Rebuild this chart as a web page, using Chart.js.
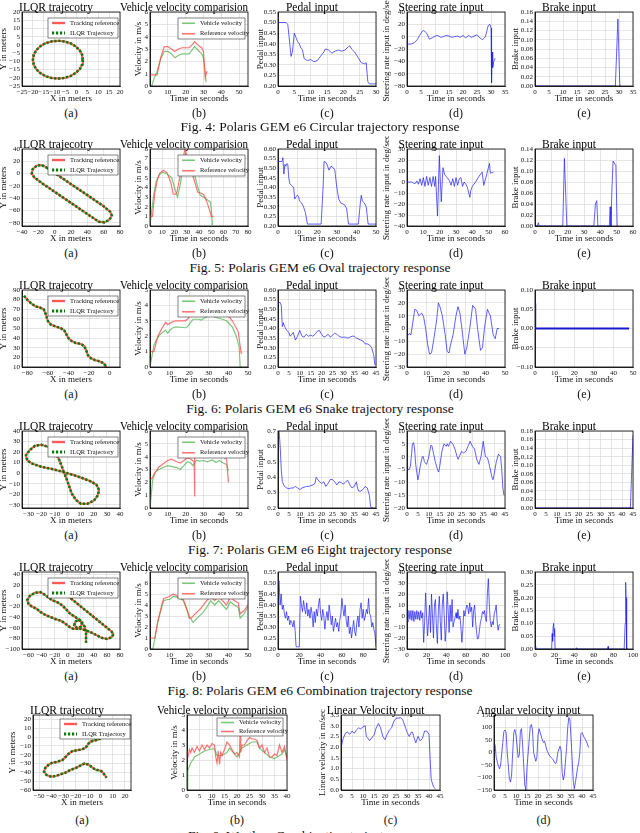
<!DOCTYPE html>
<html><head><meta charset="utf-8">
<script src="https://cdn.jsdelivr.net/npm/chart.js@4.4.1/dist/chart.umd.min.js"></script>
<style>
body{margin:0;width:640px;height:833px;overflow:hidden;background:#fff;position:relative;font-family:'Liberation Serif','Times New Roman',serif;color:#111}
canvas{position:absolute}
.cap{position:absolute;left:0;width:640px;text-align:center;font-size:13.5px;line-height:14px;white-space:nowrap}
.sub{position:absolute;width:40px;text-align:center;font-size:12px;line-height:14px}
</style></head><body>
<script>
// ---------- tick label arrays ----------
const tk_m25_20 = [-25,-20,-15,-10,-5,0,5,10,15,20];
const tk_0_50_10 = [0,10,20,30,40,50];
const tk_0_30_5 = [0,5,10,15,20,25,30];
const tk_0_35_5 = [0,5,10,15,20,25,30,35];
const tk_m40_80_20 = [-40,-20,0,20,40,60,80];
const tk_0_80_10 = [0,10,20,30,40,50,60,70,80];
const tk_0_60_10 = [0,10,20,30,40,50,60];
const tk_m80_0_20 = [-80,-60,-40,-20,0];
const tk_0_45_5 = [0,5,10,15,20,25,30,35,40,45];
const tk_m30_40_10 = [-30,-20,-10,0,10,20,30,40];
const tk_m60_80_20 = [-60,-40,-20,0,20,40,60,80];
const tk_0_80_20 = [0,20,40,60,80];
const tk_0_100_20 = [0,20,40,60,80,100];
const tk_m50_20_10 = [-50,-40,-30,-20,-10,0,10,20];
const tk_0_40_5 = [0,5,10,15,20,25,30,35,40];
const tk_0_6 = [0,1,2,3,4,5,6];
const tk_0_5 = [0,1,2,3,4,5];
const tk_0_7 = [0,1,2,3,4,5,6,7];
const tk_0_8 = [0,1,2,3,4,5,6,7,8];
const tk_p20_55 = [0.20,0.25,0.30,0.35,0.40,0.45,0.50,0.55];
const tk_p20_60 = [0.20,0.25,0.30,0.35,0.40,0.45,0.50,0.55,0.60];
const tk_p2_7 = [0.2,0.3,0.4,0.5,0.6,0.7];
const tk_m80_40_20 = [-80,-60,-40,-20,0,20,40];
const tk_m40_30_10 = [-40,-30,-20,-10,0,10,20,30];
const tk_m30_30_10 = [-30,-20,-10,0,10,20,30];
const tk_m20_10_5 = [-20,-15,-10,-5,0,5,10];
const tk_b16 = [0,0.02,0.04,0.06,0.08,0.10,0.12,0.14,0.16];
const tk_b14 = [0,0.02,0.04,0.06,0.08,0.10,0.12,0.14];
const tk_b18 = [0,0.02,0.04,0.06,0.08,0.10,0.12,0.14,0.16,0.18];
const tk_b10 = [-0.10,-0.05,0,0.05,0.10];
const tk_b30 = [0,0.05,0.10,0.15,0.20,0.25,0.30];
const tk_10_90 = [10,20,30,40,50,60,70,80,90];
const tk_m100_40_20 = [-100,-80,-60,-40,-20,0,20,40];
const tk_m60_20_10 = [-60,-50,-40,-30,-20,-10,0,10,20];
const tk_0_35_05 = [0,0.5,1.0,1.5,2.0,2.5,3.0,3.5];
const tk_m150_150 = [-150,-100,-50,0,50,100,150];

// ---------- Fig. 4 Circular ----------
const c4_traj = [[3,-9],[2.6,-6],[1.5,-3.3],[-0.4,-0.9],[-2.8,1],[-5.5,2.1],[-8.5,2.5],[-11.5,2.1],[-14.3,1],[-16.6,-0.9],[-18.5,-3.3],[-19.6,-6],[-20,-9],[-19.6,-12],[-18.5,-14.8],[-16.6,-17.1],[-14.3,-19],[-11.5,-20.1],[-8.5,-20.5],[-5.5,-20.1],[-2.8,-19],[-0.4,-17.1],[1.5,-14.8],[2.6,-12],[3,-9]];
const c4_vel_vehicle = [[0,0],[1,0],[2,0.5],[4,1.2],[6,2.2],[8,2.8],[10,2.8],[12,2.6],[14,2.3],[16,2.5],[18,2.6],[20,2.6],[22,2.6],[24,3.0],[25,3.2],[27,2.9],[29,2.6],[30,2.3],[31,1.0],[31.5,0.3]];
const c4_vel_ref = [[0,0.9],[4,0.9],[6,2.3],[8,3.2],[10,3.2],[12,3.0],[14,2.8],[16,3.0],[18,3.1],[22,3.1],[24,3.4],[25,3.6],[27,3.3],[29,3.1],[30,2.8],[31,0.7],[32,1.2]];
const c4_pedal = [[0,0.5],[2.5,0.5],[3,0.49],[3.6,0.40],[4,0.34],[4.4,0.36],[5,0.45],[5.5,0.43],[6,0.41],[6.5,0.40],[7,0.38],[7.5,0.37],[8,0.33],[9,0.32],[10,0.325],[11,0.315],[12,0.32],[13,0.34],[14,0.36],[14.5,0.375],[15.5,0.37],[16.5,0.355],[17.5,0.365],[18.5,0.37],[19.5,0.365],[20.5,0.37],[21.5,0.385],[22,0.39],[22.5,0.375],[23.5,0.36],[24.5,0.335],[25.5,0.31],[26.5,0.305],[27,0.31],[27.5,0.22],[28,0.21],[30,0.21]];
const c4_steer = [[0,-12],[1.5,-12],[2.5,-10],[3.5,-6],[4.5,2],[5.5,9],[6,10],[7,6],[8,-4],[9,-2],[10,1],[11,2],[12,-1],[13,0],[14,2],[15,1],[16,-1],[17,0],[18,1],[19,-1],[20,2],[21,-2],[22,2],[23,-1],[24,1],[25,3],[26,-2],[27,-5],[28,0],[29,18],[29.6,20],[30,14],[30.2,-75],[30.4,-25],[30.6,-50],[31,-40],[31.5,-35]];
const c4_brake = [[0,0],[28.7,0],[29.6,0.145],[30.3,0],[30.8,0]];

// ---------- Fig. 5 Oval ----------
const c5_traj = [[-10,10],[0,1],[10,-8],[20,-17],[30,-26],[40,-35],[50,-44],[60,-53],[68,-62],[70,-68],[67,-75],[61,-79],[54,-78],[45,-70],[35,-61],[25,-52],[15,-43],[5,-34],[-5,-25],[-15,-16],[-25,-6],[-28,0],[-27,7],[-22,13],[-16,14],[-10,10]];
const c5_vel_vehicle = [[0,0],[0.5,0],[1,1.2],[3,3.2],[5,4.6],[7,5.2],[10,5.6],[14,5.4],[17,5.1],[18,4.9],[20,4.0],[22,3.2],[22.5,3.0],[25,4.5],[27,6.5],[29,7.5],[31,7.0],[35,6.0],[38,4.5],[41,3.2],[45,2.9],[49,2.5],[49.5,2.4],[50.5,1.0],[51,0.1]];
const c5_vel_ref = [[0,1.0],[2,1.0],[4,3.5],[6,4.8],[8,5.5],[11,5.8],[14,5.5],[17,4.5],[19,3.3],[21,3.3],[22,3.5],[25,5.5],[28.5,8.0],[30,7.3],[33,6.0],[36,4.8],[39,3.5],[42,3.4],[44,3.2],[47,2.3],[49,1.5],[50,1.0],[52,1.0]];
const c5_pedal = [[0,0.535],[2,0.535],[2.5,0.555],[3,0.47],[3.5,0.52],[4,0.51],[4.5,0.525],[5,0.52],[5.5,0.45],[6,0.42],[7,0.41],[8,0.40],[8.5,0.34],[9,0.35],[10,0.36],[10.5,0.35],[11,0.33],[12,0.32],[12.5,0.31],[13,0.30],[14,0.27],[15,0.21],[22,0.21],[23,0.40],[23.5,0.535],[24.5,0.53],[25,0.52],[26,0.49],[27,0.51],[28,0.505],[29,0.49],[30,0.40],[31,0.34],[32,0.32],[34,0.31],[35,0.29],[36,0.21],[41,0.21],[42,0.32],[42.5,0.36],[43,0.33],[44,0.32],[45,0.30],[46,0.21],[50,0.21]];
const c5_steer = [[0,0],[3,0],[4,-1],[5,-1.5],[6,1],[7,-2],[8,3],[9,-3],[10,4],[11,-4],[12,5],[13,-3],[14,4],[15,-4],[16,5],[17,-4],[17.5,5],[18.7,-31],[19.3,0],[19.8,24],[20.5,-2],[21,-18],[22,13],[23,7],[24,5],[25,3],[26,1],[27,-3],[28,3],[29,-4],[30,4],[31,-3],[32,3],[33,4],[34,-4],[35,0],[36,-2],[37,-5],[38.5,-14],[39,-8],[40,-4],[42,0],[44,5],[46,9],[47,-3],[49,8],[50.5,17],[51,8],[53,9]];
const c5_brake = [[0,0],[1.5,0],[2,0.006],[2.5,0],[17,0],[18,0.123],[19.5,0],[36,0],[37,0.04],[37.8,0.046],[38.5,0],[45.5,0],[46,0.035],[46.5,0],[47,0.06],[47.8,0.118],[49.5,0.11],[50.3,0]];

// ---------- Fig. 6 Snake ----------
const c6_traj = [[-83,84],[-80,80],[-76,76],[-72,73],[-68,72],[-64,70],[-62,65],[-60,58],[-57,54],[-52,52],[-47,50],[-44,48],[-42,44],[-40,40],[-37,37],[-33,35],[-28,34],[-25,32],[-23,28],[-21,22],[-18,19],[-14,17],[-10,16],[-6,14],[-3,10]];
const c6_vel_vehicle = [[0,0],[0.5,0],[2,1.4],[3,1.7],[5,2.1],[8,2.4],[9,2.2],[11,2.5],[13,2.6],[18,2.55],[19,2.6],[22,3.1],[25,3.1],[26,3.05],[28,3.2],[31,3.35],[34,3.2],[37,3.1],[39,3.0],[42,2.6],[44,2.0],[45.5,1.3],[46,0],[47,0]];
const c6_vel_ref = [[0,1.0],[2,1.0],[4,2.0],[6,2.5],[8,2.9],[9,2.75],[11,2.9],[13,3.0],[18,3.0],[19,3.1],[22,3.5],[25,3.5],[26,3.45],[28,3.6],[31,3.7],[34,3.6],[37,3.6],[39,3.5],[42,3.0],[45,2.3],[46.5,0.9],[47,0.9]];
const c6_pedal = [[0,0.535],[1,0.535],[1.5,0.52],[2,0.41],[2.5,0.43],[3,0.41],[4,0.39],[5,0.38],[5.5,0.36],[6,0.365],[7,0.38],[8,0.34],[9,0.36],[10,0.39],[11,0.36],[12,0.355],[13,0.37],[14,0.36],[15,0.365],[16,0.36],[17,0.37],[18,0.385],[19,0.39],[20,0.37],[21,0.355],[22,0.36],[23,0.37],[24,0.355],[25,0.365],[26,0.375],[27,0.37],[28,0.36],[29,0.355],[30,0.355],[31,0.355],[32,0.35],[33,0.355],[34,0.36],[35,0.36],[36,0.35],[37,0.345],[38,0.34],[39,0.335],[40,0.32],[41,0.32],[42,0.315],[43,0.30],[44,0.26],[44.5,0.21]];
const c6_steer = [[0,-28],[0.3,-5],[1.5,-4],[2,-5],[3,5],[4,15],[5,14],[6,10],[7.5,12],[8.5,9],[9.5,0],[10.5,-12],[11.5,-20],[12.5,-19],[13.5,-10],[15,5],[16,20],[17,16],[18,10],[19.5,-5],[20.5,-18],[21.5,-19],[22,-14],[23.5,-5],[25,10],[26,17],[27,12],[28,0],[29.5,-20],[30.5,-15],[32,0],[33.5,18],[35,15],[36,0],[37.5,-17],[38.5,-15],[39.5,0],[41,15],[42.5,10],[44,-5],[45,-8],[46,0],[47,0]];
const c6_brake = [[0,0.065],[0.1,0],[48,0]];

// ---------- Fig. 7 Eight ----------
const c7_traj = [[-3,1],[-5,8],[-7,14],[-10,20],[-15,25],[-20,27],[-25,26],[-29,22],[-32,17],[-31,12],[-27,9],[-20,6],[-12,4],[-3,1],[5,-2],[12,-5],[18,-8],[22,-11],[24,-16],[23,-21],[20,-26],[15,-29],[10,-29],[6,-25],[3,-19],[1,-12],[-1,-5],[-3,1]];
const c7_vel_vehicle = [[0,0],[0.5,0],[1.5,2.2],[3,2.8],[5,3.0],[8,3.2],[10,3.3],[12,3.25],[15,3.15],[17,3.0],[19,3.3],[21,3.6],[23,3.5],[24,3.3],[26,3.7],[28,3.65],[30,3.7],[32,3.6],[35,3.75],[37,3.55],[39,3.7],[41,3.5],[43,3.4],[44,2.9]];
const c7_vel_ref = [[0,2.2],[1,2.3],[3,2.8],[5,3.2],[8,3.5],[10,3.7],[12,3.8],[15,3.6],[17,3.5],[19,3.7],[21,3.9],[23,3.8],[24.8,3.6],[25,0.9],[25.2,3.9],[26,4.0],[28,4.1],[30,4.0],[33,4.1],[35,4.2],[37,4.0],[39,4.1],[41,4.0],[43,3.8],[44,2.0]];
const c7_pedal = [[0.5,0.70],[1,0.6],[1.5,0.45],[2,0.37],[3,0.34],[4,0.33],[5,0.325],[6,0.33],[7,0.33],[8,0.34],[9,0.33],[10,0.32],[11,0.33],[12,0.335],[13,0.34],[14,0.34],[15,0.345],[16,0.35],[17,0.36],[17.5,0.40],[18,0.39],[19,0.37],[20,0.36],[21,0.37],[22,0.34],[23,0.36],[24,0.385],[25,0.385],[26,0.37],[27,0.35],[28,0.37],[29,0.365],[30,0.355],[31,0.37],[32,0.38],[33,0.35],[34,0.33],[35,0.34],[36,0.37],[36.5,0.33],[37,0.31],[38,0.31],[39,0.32],[40,0.34],[41,0.33],[42,0.28],[42.5,0.21],[43,0.20],[44,0.20]];
const c7_steer = [[0,-5],[1,-5],[1.5,-4],[2,0],[2.5,5],[3,5.5],[3.5,3],[4,-3],[5,-9],[5.5,-7],[6,-4],[7,0],[7.5,0],[8,-2],[9,-3],[10,0],[11,4.5],[11.5,4],[12,2],[13,-2],[14,-5],[14.5,-6],[15,-4],[16,2],[17,5],[18,4],[18.5,5],[19,4],[20,6],[21,5],[22,3],[23,0],[23.5,-1],[24,0],[25,2],[26,1.5],[27,2],[28,4],[29,6],[30,4],[31,3],[32,-1],[33,-3],[34,0],[35,6],[35.5,3],[36,0],[37,-0.5],[38,-4],[39,-8],[39.5,-9],[40,-7],[41,-2],[42,1],[43,0],[43.5,-5],[44,-12],[44.5,-15]];
const c7_brake = [[0,0],[43.8,0],[44.5,0.1],[45,0.17]];

// ---------- Fig. 8 Combination ----------
const c8_traj = [[0,0],[20,-20],[40,-40],[60,-60],[67,-67],[70,-72],[67,-78],[60,-81],[52,-79],[44,-74],[36,-69],[28,-65],[20,-62],[14,-60],[10,-55],[12,-48],[18,-45],[22,-50],[20,-58],[14,-62],[8,-62],[2,-58],[-4,-52],[-10,-47],[-18,-44],[-26,-40],[-34,-36],[-42,-30],[-48,-24],[-55,-20],[-60,-15],[-62,-8],[-58,0],[-50,6],[-42,7],[-36,3],[-30,-3],[-24,-8],[-16,-12],[-8,-18],[-2,-26],[4,-34],[12,-40],[20,-48],[26,-58],[28,-70],[28,-88]];
const c8_vel_vehicle = [[0,0],[1.5,0],[3,1.5],[4,2.5],[6,3.8],[7,4.4],[9,4.5],[10,4.5],[12,4.8],[14,4.7],[16,4.5],[17,4.4],[19,3.5],[20,3.0],[22,2.4],[24,2.8],[27,3.3],[29,3.8],[31,4.4],[33,4.0],[35,4.4],[37,4.0],[39,3.6],[41,4.3],[43,4.0],[45,3.8],[46,2.8],[48,3.2],[50,3.8]];
const c8_vel_ref = [[0,1.0],[2.5,1.0],[4,2.5],[6,4.0],[7,4.6],[9,4.7],[10,4.8],[12,5.0],[14,4.8],[16,4.6],[17,4.5],[19,3.5],[20,2.8],[21,2.8],[23,3.2],[26,3.7],[28,4.2],[31,4.8],[33,4.4],[35,4.8],[37,4.4],[39,4.0],[41,4.7],[43,4.4],[45,4.2],[46,3.2],[48,3.5],[50,4.0]];
const c8_pedal = [[0,0.49],[1,0.51],[2,0.40],[3,0.45],[4,0.38],[5,0.40],[6,0.36],[7,0.34],[8,0.37],[9,0.33],[10,0.35],[11,0.31],[12,0.33],[13,0.32],[14,0.30],[15,0.33],[16,0.29],[17,0.21],[19,0.21],[20,0.21],[21,0.44],[22,0.40],[23,0.37],[24,0.42],[25,0.38],[26,0.36],[27,0.41],[28,0.35],[29,0.38],[30,0.34],[31,0.39],[32,0.36],[33,0.30],[34,0.37],[35,0.32],[36,0.38],[37,0.35],[38,0.40],[39,0.43],[40,0.36],[41,0.33],[42,0.38],[43,0.35],[44,0.29],[45,0.34],[46,0.37],[47,0.33],[48,0.40],[49,0.36],[50,0.31],[51,0.35],[52,0.28],[53,0.31],[54,0.34],[55,0.30],[56,0.32],[57,0.28],[58,0.33],[59,0.36],[60,0.43],[61,0.38],[62,0.35],[63,0.40],[64,0.33],[65,0.30],[66,0.35],[67,0.27],[68,0.30],[69,0.25],[70,0.29],[71,0.33],[72,0.28],[73,0.26],[74,0.32],[75,0.35],[76,0.30],[77,0.38],[78,0.41],[79,0.34],[80,0.38],[81,0.33],[82,0.35],[83,0.38],[84,0.36],[85,0.43],[86,0.36],[87,0.35],[88,0.30],[89,0.32],[90,0.29],[91,0.27],[92,0.21]];
const c8_steer = [[0,-4],[1,-5],[2,5],[3,-3],[4,5],[5,-4],[6,5],[7,-5],[8,4],[9,-3],[10,5],[11,-3],[12,4],[13,-4],[14,5],[15,-2],[16,3],[17,-24],[18,-5],[19,21],[20,0],[21,-18],[22,-5],[23,10],[24,-15],[25,20],[26,0],[27,-20],[28,10],[29,15],[30,-10],[31,-25],[32,5],[33,18],[34,-5],[35,-22],[36,10],[37,20],[38,0],[39,-23],[40,-10],[41,22],[42,5],[43,-15],[44,10],[45,-5],[46,15],[47,-10],[48,-5],[49,-2],[50,3],[51,-2],[52,6],[53,-3],[54,0],[55,-10],[56,-24],[57,-12],[58,5],[59,0],[60,5],[61,10],[62,8],[63,2],[64,12],[65,4],[66,8],[67,-10],[68,5],[69,10],[70,-5],[71,-15],[72,-21],[73,-20],[74,-12],[75,-5],[76,-2],[77,4],[78,2],[79,5],[80,-2],[81,-5],[82,20],[83,34],[84,10],[85,-5],[86,-10],[87,-5],[88,-8],[89,2],[90,5],[91,10],[92,-5],[93,-13],[94,-8],[95,-8]];
const c8_brake = [[0,0],[0.5,0.01],[1,0],[17,0],[17.5,0.06],[18,0.03],[18.5,0.09],[19,0.1],[19.5,0.05],[20,0.08],[20.5,0],[42,0],[42.5,0.005],[43,0],[74,0],[74.5,0.01],[75,0],[91,0],[92,0.1],[92.5,0.26],[93,0.2],[93.5,0],[95,0]];

// ---------- Fig. 9 Warthog ----------
const w_traj = [[2.6,1.4],[1,-1],[-2,-3],[-5,-4],[-8,-5],[-10,-8],[-12,-12],[-15,-14],[-19,-15],[-23,-16],[-26,-19],[-28,-22],[-31,-26],[-35,-28],[-39,-29],[-42,-31],[-45,-35],[-46,-39],[-44,-43],[-40,-45],[-36,-44],[-32,-42],[-28,-40],[-24,-37],[-20,-35],[-16,-32],[-13,-30],[-10,-31],[-7,-34],[-4,-37],[0,-38],[2,-40],[4,-44],[5,-46]];
const w_vel_vehicle = [[0,0],[0.3,1.3],[1.5,1.8],[3,2.2],[5,2.4],[7,2.6],[9,2.7],[11,2.75],[12,2.3],[14,2.3],[16,2.5],[17,2.8],[18,2.6],[20,2.2],[21,2.5],[22,2.8],[24,3.0],[26,3.2],[28,3.2],[29,2.8],[31,2.5],[33,2.2],[35,2.1],[37,2.3],[38,2.4],[39,2.7],[40,2.2]];
const w_vel_ref = [[0,2.6],[0.5,2.3],[1,2.7],[1.5,2.5],[2,2.8],[3,2.5],[4,2.9],[5,2.6],[6,3.0],[7,2.7],[8,3.0],[9,2.8],[10,3.1],[11,3.0],[11.5,2.2],[12,1.8],[12.5,2.6],[13,1.7],[13.5,2.5],[14,2.3],[15,2.7],[16,3.2],[17,3.0],[18,2.7],[19,2.4],[20,2.5],[21,2.2],[21.2,4.0],[21.5,2.5],[22,3.0],[23,3.0],[24,3.3],[25,3.5],[26,3.4],[27,3.4],[28,3.3],[29,2.8],[30,3.0],[31,2.5],[32,2.8],[33,2.2],[34,2.2],[35,2.4],[36,2.3],[37,3.0],[38,2.5],[39,2.9],[40,2.0]];
const w_linear = [[0,1.9],[0.5,2.2],[1,2.4],[2,2.65],[3,2.7],[4,2.6],[5,2.75],[6,2.65],[7,2.8],[8,2.9],[9,2.85],[10,2.95],[11,3.0],[11.5,2.5],[12,2.45],[13,2.3],[14,2.45],[15,2.55],[16,2.9],[17,3.1],[18,2.9],[19,2.5],[20,2.35],[21,2.6],[22,2.8],[23,2.9],[24,3.2],[25,3.35],[26,3.35],[27,3.38],[28,3.3],[29,3.0],[30,2.7],[31,2.5],[32,2.7],[32.5,2.7],[33,2.5],[34,2.2],[35,2.5],[36,2.3],[37,2.4],[38,2.75],[39,2.75],[40,2.6],[40.5,1.5],[41,0.5],[42,0.15],[43,0.05]];
const w_angular = [[0,40],[0.5,30],[1,-20],[2,-55],[2.5,-65],[3,-50],[4,40],[4.5,85],[5,90],[5.5,80],[6,0],[7,-105],[7.5,-118],[8,-90],[8.5,0],[9,80],[9.5,92],[10,70],[11,-20],[11.5,-10],[12,85],[12.5,95],[13,30],[14,-130],[14.5,-150],[15,-60],[16,50],[16.5,105],[17,112],[17.5,90],[18,0],[19,-35],[19.5,-20],[20,70],[20.5,95],[21,80],[22,50],[22.5,40],[23,45],[24,10],[25,-10],[26,-20],[27,-30],[27.5,-40],[28,-45],[28.5,-35],[29,0],[30,25],[30.5,10],[31,-80],[31.5,-110],[32,-90],[33,20],[33.5,100],[34,140],[34.5,130],[35,60],[36,-110],[36.5,-145],[37,-120],[37.5,-90],[38,-60],[38.5,-40],[39,0],[39.5,75],[40,80],[41,60],[42,45],[43,20]];

// ---------- rendering ----------
const FF = "'Liberation Serif','Times New Roman',serif";
const YW = 30, XH = 17, TH = 13, RP = 9;
const RED = '#ff5a5a', DGREEN = '#0b7a0b', VGREEN = 'rgba(70,175,70,0.7)', VRED = 'rgba(255,70,70,0.75)', BLUE = 'rgba(30,30,255,0.7)';

function fmt(v,d){ let s=(Math.abs(v)<1e-9?0:v).toFixed(d); return s.replace('-','\u2212'); }
function pts(a){ return a.map(p=>({x:p[0],y:p[1]})); }
function ln(arr,color,w,label,dash,order){ return {label:label||'',data:pts(arr),borderColor:color,backgroundColor:color,borderWidth:w,borderDash:dash||[],pointRadius:0,showLine:true,fill:false,tension:0,order:order||0}; }
function trajDs(arr){ return [ln(arr,RED,2,'Tracking reference',null,1), ln(arr,DGREEN,2.6,'ILQR Trajectory',[2.2,1.8],0)]; }
function velDs(v,r){ return [ln(v,VGREEN,1.2,'Vehicle velocity',null,1), ln(r,VRED,1.2,'Reference velocity',null,0)]; }
function blue(a,w){ return [ln(a,BLUE,w||1,'')]; }

function axis(pos,min,max,ticks,dec,title){
  return {type:'linear',position:pos,min:min,max:max,
    afterBuildTicks:s=>{ s.ticks = ticks.map(v=>({value:v})); },
    afterFit:s=>{ if(pos==='left') s.width=YW; else s.height=XH; },
    ticks:{autoSkip:false,maxRotation:0,minRotation:0,padding:2,color:'#111',font:{family:FF,size:7},callback:v=>fmt(v,dec)},
    grid:{drawTicks:false,color:'#dadada',lineWidth:0.7},
    border:{display:true,color:'#000',width:0.8},
    title:{display:pos!=='left'&&!!title,text:title||'',color:'#111',font:{family:FF,size:9,lineHeight:'9px'},padding:{top:0,bottom:0}}
  };
}

const framePlugin = {id:'frame', afterDatasetsDraw(chart){ const c=chart.ctx,a=chart.chartArea; c.save(); c.strokeStyle='#000'; c.lineWidth=0.8; c.strokeRect(a.left,a.top,a.right-a.left,a.bottom-a.top); c.restore(); }};
// vertical y-axis title drawn without width compression
const yTitlePlugin = {id:'yTitle', afterDraw(chart,args,o){
  const t=chart.options.scales.y.title.text; if(!t) return;
  const c=chart.ctx,a=chart.chartArea;
  c.save(); c.translate(a.left+o.off,(a.top+a.bottom)/2); c.rotate(-Math.PI/2);
  c.fillStyle='#111'; c.font='9px '+FF; c.textAlign='center'; c.textBaseline='middle'; c.fillText(t,0,0); c.restore(); }};
const legendPlugin = {id:'boxLegend', afterDraw(chart,args,o){
  if(!o || !o.w) return;
  const c=chart.ctx,a=chart.chartArea,x0=a.left+o.x,y0=a.top+o.y;
  c.save(); c.fillStyle='#fff'; c.fillRect(x0,y0,o.w,o.h); c.strokeStyle='#333'; c.lineWidth=0.6; c.strokeRect(x0,y0,o.w,o.h);
  const ds=chart.data.datasets,n=ds.length;
  ds.forEach((d,i)=>{ const yy=y0+o.h*(i+0.5)/n;
    c.strokeStyle=d.borderColor; c.lineWidth=d.borderWidth+0.4; c.setLineDash(d.borderDash||[]);
    c.beginPath(); c.moveTo(x0+4,yy); c.lineTo(x0+17,yy); c.stroke(); c.setLineDash([]);
    c.fillStyle='#111'; c.font='6.5px '+FF; c.textBaseline='middle'; c.textAlign='left'; c.fillText(d.label,x0+22,yy); });
  c.restore(); }};

function panel(p){
  const cv=document.createElement('canvas');
  const cw=p.w+YW+RP, ch=p.h+TH+XH;
  cv.width=cw; cv.height=ch; cv.style.left=(p.l-YW)+'px'; cv.style.top=(p.t-TH)+'px'; cv.style.width=cw+'px'; cv.style.height=ch+'px';
  document.body.appendChild(cv);
  new Chart(cv,{type:'scatter',data:{datasets:p.ds},options:{
    responsive:false,animation:false,devicePixelRatio:1,events:[],
    layout:{padding:{left:0,right:RP,top:0,bottom:0}},
    plugins:{legend:{display:false},tooltip:{enabled:false},
      title:{display:true,text:p.title,color:'#000',font:{family:FF,size:11.5,weight:'normal',lineHeight:'8px'},padding:{top:5,bottom:0}},
      yTitle:{off:p.yo},
      boxLegend:p.leg||false},
    scales:{x:axis('bottom',p.x[0],p.x[1],p.x[2],p.x[3],p.xl), y:axis('left',p.y[0],p.y[1],p.y[2],p.y[3],p.yl)}
  },plugins:[framePlugin,yTitlePlugin,legendPlugin]});
  const s=document.createElement('div'); s.className='sub'; s.textContent=p.sub;
  s.style.left=(p.l+p.w/2-20)+'px'; s.style.top=(p.t+p.h+p.sy-7)+'px'; document.body.appendChild(s);
}
function caption(text,y){ const d=document.createElement('div'); d.className='cap'; d.textContent=text; d.style.top=(y-7)+'px'; document.body.appendChild(d); }

const ROWT=[12,149,290,431,572], ROWH=[74,77,77,77,77], COLL=[22,150,278,407,535], PW=98;
const LEG_A={x:26,y:6,w:70,h:20}, LEG_B={x:28,y:6,w:67,h:21};
const TT=['ILQR trajecotry','Vehicle velocity comparision','Pedal input','Steering rate input','Brake input'];
const YL=['Y in meters','Velocity in m/s','Pedal input','Steering rate input in deg/sec','Brake input'];
const YO=[-18,-11,-17,-20,-19];
const SUBS=['(a)','(b)','(c)','(d)','(e)'];
const rows=[
 {cap:'Fig. 4: Polaris GEM e6 Circular trajectory response', p:[
  {x:[-25,20,tk_m25_20,0],y:[-25,20,tk_m25_20,0],ds:trajDs(c4_traj)},
  {x:[0,55,tk_0_50_10,0],y:[0,6,tk_0_6,0],ds:velDs(c4_vel_vehicle,c4_vel_ref)},
  {x:[0,30,tk_0_30_5,0],y:[0.2,0.55,tk_p20_55,2],ds:blue(c4_pedal)},
  {x:[0,35,tk_0_35_5,0],y:[-80,40,tk_m80_40_20,0],ds:blue(c4_steer)},
  {x:[0,35,tk_0_35_5,0],y:[0,0.16,tk_b16,2],ds:blue(c4_brake)}]},
 {cap:'Fig. 5: Polaris GEM e6 Oval trajectory response', p:[
  {x:[-40,80,tk_m40_80_20,0],y:[-85,40,tk_m80_40_20,0],ds:trajDs(c5_traj)},
  {x:[0,80,tk_0_80_10,0],y:[0,8,tk_0_8,0],ds:velDs(c5_vel_vehicle,c5_vel_ref)},
  {x:[0,50,tk_0_50_10,0],y:[0.2,0.6,tk_p20_60,2],ds:blue(c5_pedal)},
  {x:[0,60,tk_0_60_10,0],y:[-40,30,tk_m40_30_10,0],ds:blue(c5_steer)},
  {x:[0,60,tk_0_60_10,0],y:[0,0.14,tk_b14,2],ds:blue(c5_brake)}]},
 {cap:'Fig. 6: Polaris GEM e6 Snake trajectory response', p:[
  {x:[-85,10,tk_m80_0_20,0],y:[10,90,tk_10_90,0],ds:trajDs(c6_traj)},
  {x:[0,50,tk_0_50_10,0],y:[0,5,tk_0_5,0],ds:velDs(c6_vel_vehicle,c6_vel_ref)},
  {x:[0,45,tk_0_45_5,0],y:[0.2,0.6,tk_p20_60,2],ds:blue(c6_pedal)},
  {x:[0,50,tk_0_50_10,0],y:[-30,30,tk_m30_30_10,0],ds:blue(c6_steer)},
  {x:[0,50,tk_0_50_10,0],y:[-0.1,0.1,tk_b10,2],ds:[ln(c6_brake,'#1a1ad0',2,'')]}]},
 {cap:'Fig. 7: Polaris GEM e6 Eight trajectory response', p:[
  {x:[-35,40,tk_m30_40_10,0],y:[-33,40,tk_m30_40_10,0],ds:trajDs(c7_traj)},
  {x:[0,55,tk_0_50_10,0],y:[0,6,tk_0_6,0],ds:velDs(c7_vel_vehicle,c7_vel_ref)},
  {x:[0,45,tk_0_45_5,0],y:[0.2,0.7,tk_p2_7,1],ds:blue(c7_pedal)},
  {x:[0,45,tk_0_45_5,0],y:[-20,10,tk_m20_10_5,0],ds:blue(c7_steer)},
  {x:[0,45,tk_0_45_5,0],y:[0,0.18,tk_b18,2],ds:blue(c7_brake)}]},
 {cap:'Fig. 8: Polaris GEM e6 Combination trajectory response', p:[
  {x:[-70,80,tk_m60_80_20,0],y:[-100,45,tk_m100_40_20,0],ds:trajDs(c8_traj)},
  {x:[0,50,tk_0_50_10,0],y:[0,7,tk_0_7,0],ds:velDs(c8_vel_vehicle,c8_vel_ref)},
  {x:[0,92,tk_0_80_20,0],y:[0.2,0.55,tk_p20_55,2],ds:blue(c8_pedal)},
  {x:[0,100,tk_0_100_20,0],y:[-30,40,tk_m30_40_10,0],ds:blue(c8_steer)},
  {x:[0,100,tk_0_100_20,0],y:[0,0.3,tk_b30,2],ds:blue(c8_brake)}]}
];
rows.forEach((r,ri)=>{
  r.p.forEach((q,ci)=>{
    panel(Object.assign({l:COLL[ci],t:ROWT[ri],w:PW,h:ROWH[ri],title:TT[ci],xl:ci===0?'X in meters':'Time in seconds',yl:YL[ci],yo:YO[ci],sub:SUBS[ci],sy:27,leg:ci===0?LEG_A:(ci===1?LEG_B:null)},q));
  });
  caption(r.cap, ri===0?127:ROWT[ri]+119);
});
// Row 6: Warthog
const R6T=715, R6H=75;
panel({l:33,t:R6T,w:98,h:R6H,title:'ILQR trajecotry',xl:'X in meters',yl:'Y in meters',yo:-20,sub:'(a)',sy:30,leg:{x:27,y:4,w:70,h:20},
  x:[-55,25,tk_m50_20_10,0],y:[-60,25,tk_m60_20_10,0],ds:trajDs(w_traj)});
panel({l:187,t:R6T,w:100,h:R6H,title:'Vehicle velocity comparision',xl:'Time in seconds',yl:'Velocity in m/s',yo:-12,sub:'(b)',sy:30,leg:{x:30,y:3,w:66,h:18},
  x:[0,40,tk_0_40_5,0],y:[0,5,tk_0_5,0],ds:velDs(w_vel_vehicle,w_vel_ref)});
panel({l:341,t:R6T,w:99,h:R6H,title:'Linear Velocity input',xl:'Time in seconds',yl:'Linear velocity in m/sec',yo:-18,sub:'(c)',sy:30,leg:null,
  x:[0,45,tk_0_45_5,0],y:[0,3.5,tk_0_35_05,1],ds:blue(w_linear)});
panel({l:494,t:R6T,w:99,h:R6H,title:'Angular velocity input',xl:'Time in seconds',yl:'',yo:-16,sub:'(d)',sy:30,leg:null,
  x:[0,45,tk_0_45_5,0],y:[-150,150,tk_m150_150,0],ds:blue(w_angular)});
caption('Fig. 9: Warthog Combination trajectory response', 836);
</script>
</body></html>
